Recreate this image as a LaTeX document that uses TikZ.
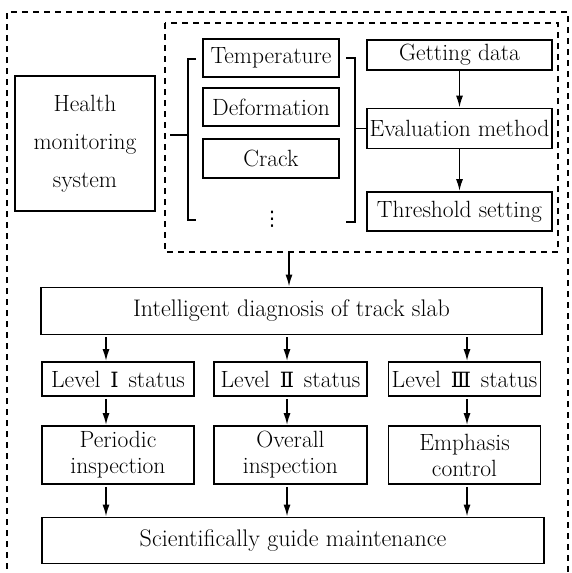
\documentclass[tikz,border=0pt]{standalone}
\usepackage{fontspec}
\newfontfamily\numfont{DejaVu Serif}
\newfontfamily\dotfont{DejaVu Sans}
\usetikzlibrary{arrows.meta}
\tikzset{
  box/.style={draw, line width=1.7pt, inner sep=0pt, align=center, font=\fontsize{23.5}{26}\selectfont},
  arr/.style={line width=1.7pt, -{Latex[length=12pt,width=7pt]}},
  ln/.style={line width=1.7pt},
  dash box/.style={line width=1.7pt, dash pattern=on 6pt off 5pt},
}
\newcommand{\rn}[1]{\hspace{0.42em}{\numfont\fontsize{21}{24}\selectfont #1}\hspace{0.42em}}
\begin{document}
\begin{tikzpicture}[x=1pt,y=-1pt]
\useasboundingbox (0,0) rectangle (572,573);
% outer dashed frame (bottom edge lies beyond the picture)
\draw[dash box] (7,580) -- (7,12) -- (568,12) -- (568,580);
% inner dashed box
\draw[dash box] (165,23) rectangle (558,252);
\coordinate (innerS) at (289,252);

\node[box, minimum width=140pt, minimum height=135pt, font=\fontsize{23.5}{38}\selectfont] (health) at (85,143.5) {Health\\monitoring\\system};

\node[box, minimum width=136pt, minimum height=38pt] (temp) at (271,58) {Temperature};
\node[box, minimum width=136pt, minimum height=38pt] (defo) at (271,107) {Deformation};
\node[box, minimum width=136pt, minimum height=39pt] (crack) at (271,158.5) {Crack};
\node[inner sep=0pt, font=\dotfont\fontsize{20}{24}\selectfont] (dots) at (272,219) {⋮};

\node[box, minimum width=185pt, minimum height=30pt] (get) at (459.5,55) {Getting data};
\node[box, minimum width=185pt, minimum height=40pt] (eval) at (459.5,128.5) {Evaluation method};
\node[box, minimum width=185pt, minimum height=39pt] (thr) at (459.5,211.5) {Threshold setting};

% brackets
\coordinate (lbT) at (196,59);
\coordinate (lbB) at (196,220);
\coordinate (lbL) at (170,135);
\draw[ln] (lbT) -- (188,59) -- (188,220) -- (lbB);
\draw[ln] (lbL) -- (lbL -| 188,0);
\coordinate (rbT) at (346,58);
\coordinate (rbB) at (346,222);
\draw[ln] (rbT) -- (355,58) -- (355,222) -- (rbB);
\draw[ln] (eval.west -| 355,0) -- (eval.west);

\draw[arr] (get) -- (eval);
\draw[arr] (eval) -- (thr);

\node[box, minimum width=501pt, minimum height=47pt, font=\fontsize{24}{26}\selectfont] (intel) at (291.5,311) {Intelligent diagnosis of track slab};
\draw[arr] (innerS) -- (intel.north -| innerS);

\node[box, minimum width=152pt, minimum height=34pt] (l1) at (118,379) {Level\rn{Ⅰ}status};
\node[box, minimum width=153pt, minimum height=34pt] (l2) at (290.5,379) {Level\rn{Ⅱ}status};
\node[box, minimum width=152pt, minimum height=34pt] (l3) at (464.5,379) {Level\rn{Ⅲ}status};

\node[box, minimum width=152pt, minimum height=58pt] (p1) at (118,455) {Periodic\\inspection};
\node[box, minimum width=153pt, minimum height=58pt] (p2) at (290.5,455) {Overall\\inspection};
\node[box, minimum width=152pt, minimum height=58pt] (p3) at (464.5,455) {Emphasis\\control};

\node[box, minimum width=502pt, minimum height=46pt, font=\fontsize{24}{26}\selectfont] (sci) at (293,540.5) {Scientifically guide maintenance};

\coordinate (c1) at (106,0);
\coordinate (c2) at (287,0);
\coordinate (c3) at (467,0);
\foreach \c/\a/\b in {c1/l1/p1, c2/l2/p2, c3/l3/p3}{
  \draw[arr] (intel.south -| \c) ++(0,2) -- (\a.north -| \c);
  \draw[arr] (\a.south -| \c) ++(0,2) -- (\b.north -| \c);
  \draw[arr] (\b.south -| \c) ++(0,2) -- (sci.north -| \c);
}
\end{tikzpicture}
\end{document}
